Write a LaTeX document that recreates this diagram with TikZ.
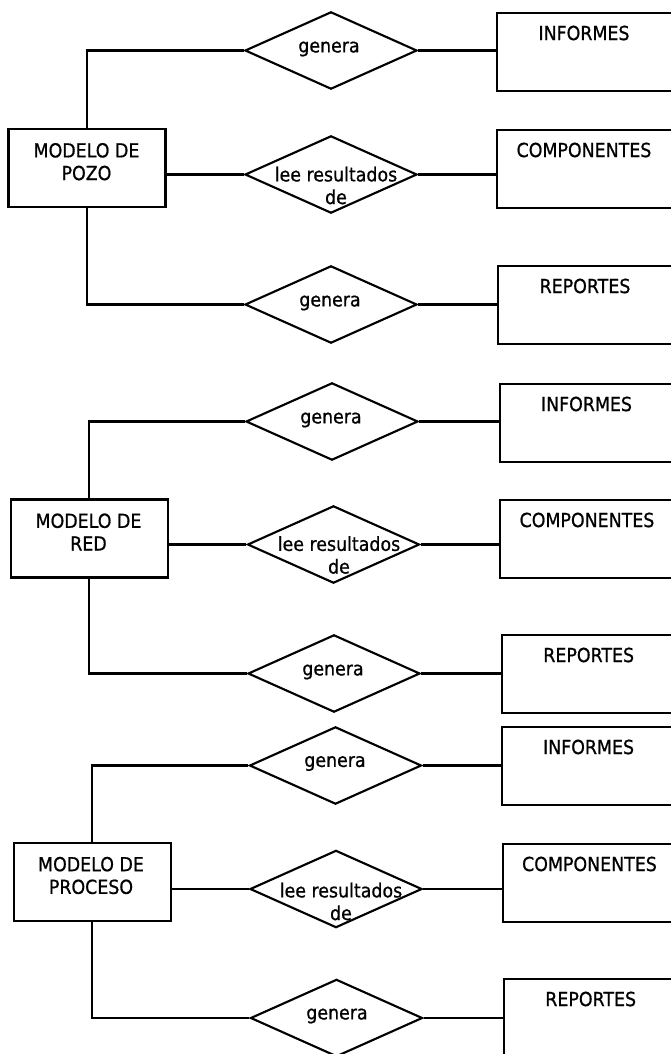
\documentclass[tikz,border=0pt]{standalone}
\usepackage{fontspec}
\setmainfont{DejaVu Sans}[FakeStretch=0.9,FakeBold=0.8]
\usetikzlibrary{shapes.geometric,calc}
\begin{document}
\begin{tikzpicture}[x=0.75pt,y=-0.75pt,
  line width=1.6pt,
  lbl/.style={font=\fontsize{14.5pt}{17pt}\selectfont, inner sep=0pt, align=center},
  model/.style={draw, rectangle, minimum width=117.75pt, minimum height=58.5pt, inner sep=0pt},
  rel/.style={draw, diamond, minimum width=129pt, minimum height=58pt, inner sep=0pt},
  ent/.style={draw, rectangle, anchor=north west, minimum width=190pt, minimum height=58.5pt, inner sep=0pt}]
\useasboundingbox (0,0) rectangle (671,1054);
\clip (0,0) rectangle (671,1054);

% ---------- MODELO DE POZO ----------
\node[model] (mp) at (87,168.3) {};
\node[lbl] (mpt) at (86.5,161.7) {MODELO DE\\POZO};
\node[rel] (d11) at (331,50.5) {};
\node[rel] (d12) at (331,174.5) {};
\node[rel] (d13) at (331,304.5) {};
\node[lbl] (d11t) at (329,49) {genera};
\node[lbl] (d12t) at (336,185.5) {lee resultados\\de};
\node[lbl] (d13t) at (330,303) {genera};
\node[ent] (b11) at (496,12) {};
\node[ent] (b12) at (496,129) {};
\node[ent] (b13) at (497,265) {};
\node[lbl] (b11t) at ($(b11.north west)+(88,21)$) {INFORMES};
\node[lbl] (b12t) at ($(b12.north west)+(88,21)$) {COMPONENTES};
\node[lbl] (b13t) at ($(b13.north west)+(88,21)$) {REPORTES};
\draw (mp.north) |- (d11.west);
\draw (d12.west -| mp.east) -- (d12.west);
\draw (mp.south) |- (d13.west);
\draw (d11.east) -- (d11.east -| b11.west);
\draw (d12.east) -- (d12.east -| b12.west);
\draw (d13.east) -- (d13.east -| b13.west);

% ---------- MODELO DE RED ----------
\node[model] (mr) at (89.3,538.5) {};
\node[lbl] (mrt) at (88.5,532) {MODELO DE\\RED};
\node[rel] (d21) at (332,421.5) {};
\node[rel] (d22) at (333.5,544.5) {};
\node[rel] (d23) at (334,673.5) {};
\node[lbl] (d21t) at (331,420) {genera};
\node[lbl] (d22t) at (339,555) {lee resultados\\de};
\node[lbl] (d23t) at (333,672) {genera};
\node[ent] (b21) at (498.5,383) {};
\node[ent] (b22) at (499,499) {};
\node[ent] (b23) at (500.7,634) {};
\node[lbl] (b21t) at ($(b21.north west)+(88,21)$) {INFORMES};
\node[lbl] (b22t) at ($(b22.north west)+(88,21)$) {COMPONENTES};
\node[lbl] (b23t) at ($(b23.north west)+(88,21)$) {REPORTES};
\draw (mr.north) |- (d21.west);
\draw (d22.west -| mr.east) -- (d22.west);
\draw (mr.south) |- (d23.west);
\draw (d21.east) -- (d21.east -| b21.west);
\draw (d22.east) -- (d22.east -| b22.west);
\draw (d23.east) -- (d23.east -| b23.west);

% ---------- MODELO DE PROCESO ----------
\node[model] (mpr) at (92.3,881.9) {};
\node[lbl] (mprt) at (91,875.5) {MODELO DE\\PROCESO};
\node[rel] (d31) at (335.5,765.5) {};
\node[rel] (d32) at (336,889) {};
\node[rel] (d33) at (336.5,1018) {};
\node[lbl] (d31t) at (335,763.5) {genera};
\node[lbl] (d32t) at (341,901.5) {lee resultados\\de};
\node[lbl] (d33t) at (337,1016) {genera};
\node[ent] (b31) at (500.6,726) {};
\node[ent] (b32) at (501.5,843) {};
\node[ent] (b33) at (502.7,978) {};
\node[lbl] (b31t) at ($(b31.north west)+(88,21)$) {INFORMES};
\node[lbl] (b32t) at ($(b32.north west)+(88,21)$) {COMPONENTES};
\node[lbl] (b33t) at ($(b33.north west)+(88,21)$) {REPORTES};
\draw (mpr.north) |- (d31.west);
\draw (d32.west -| mpr.east) -- (d32.west);
\draw (mpr.south) |- (d33.west);
\draw (d31.east) -- (d31.east -| b31.west);
\draw (d32.east) -- (d32.east -| b32.west);
\draw (d33.east) -- (d33.east -| b33.west);
\end{tikzpicture}
\end{document}
